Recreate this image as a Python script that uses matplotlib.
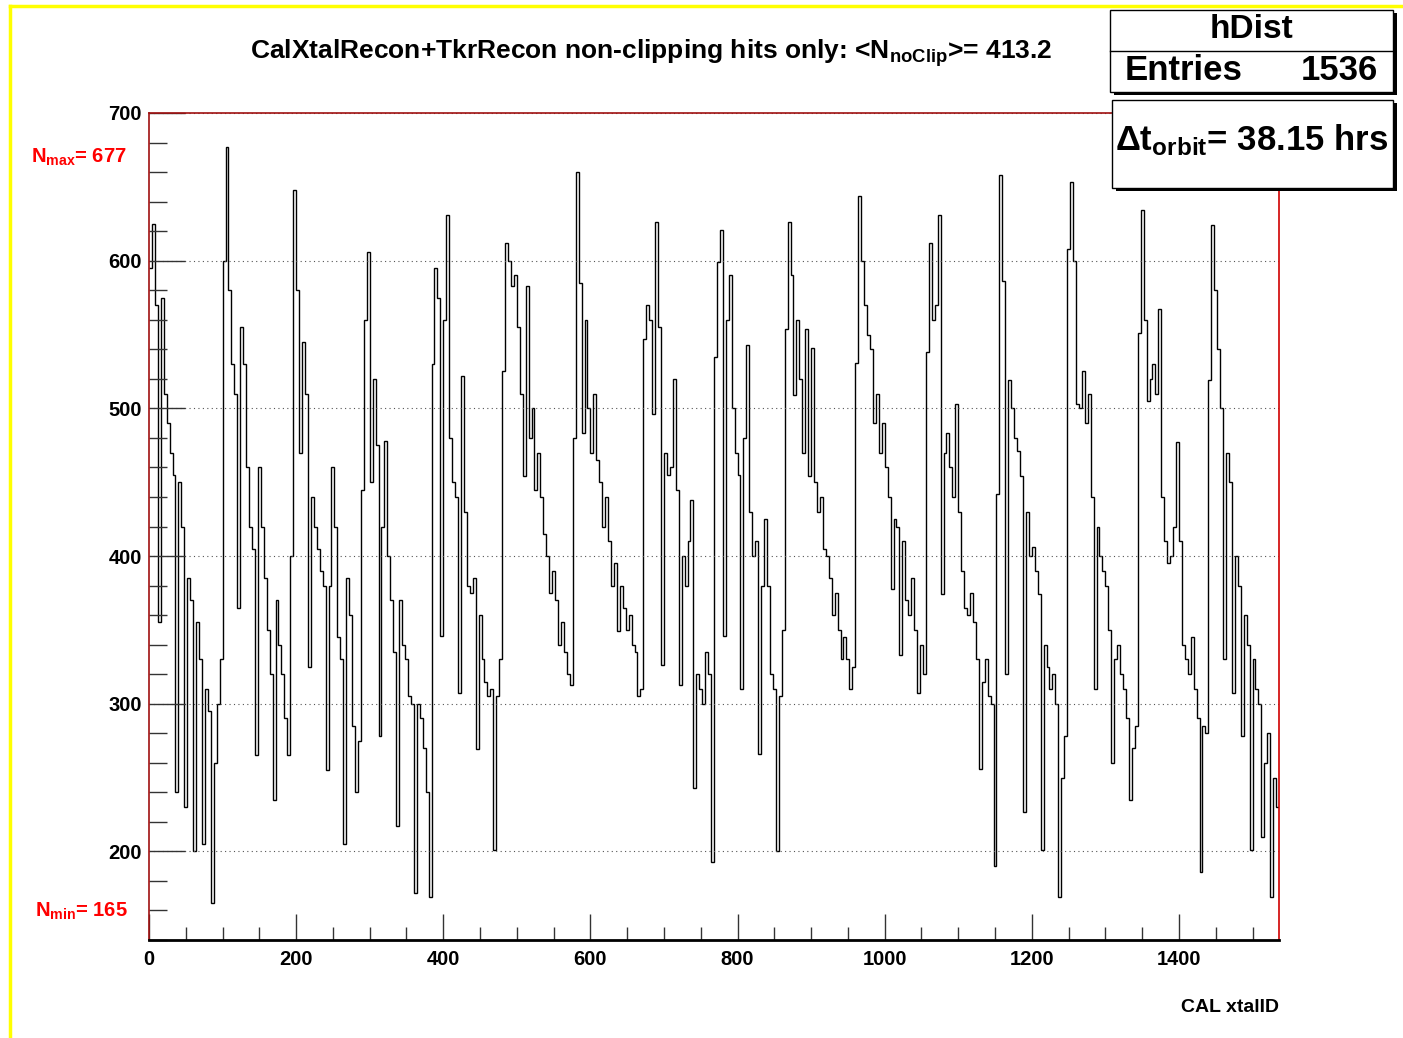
import numpy as np
import matplotlib
matplotlib.use("Agg")
import matplotlib.pyplot as plt
from matplotlib.patches import Rectangle
from matplotlib.lines import Line2D

plt.rcParams['font.family'] = ['Liberation Sans', 'DejaVu Sans']
plt.rcParams['font.weight'] = 'bold'
plt.rcParams['mathtext.fontset'] = 'custom'
plt.rcParams['mathtext.rm'] = 'Liberation Sans:bold'
plt.rcParams['mathtext.bf'] = 'Liberation Sans:bold'
plt.rcParams['mathtext.it'] = 'Liberation Sans:bold'

# hits per crystal in groups of 4 xtalIDs (one list per 96 xtals)
cycle_00 = [595, 625, 570, 355, 575, 510, 490, 470, 455, 240, 450, 420, 230, 385, 370, 200, 355, 330, 205, 310, 295, 165, 260, 300]
cycle_01 = [330, 600, 677, 580, 530, 510, 365, 555, 530, 460, 420, 405, 265, 460, 420, 385, 350, 320, 235, 370, 340, 320, 290, 265]
cycle_02 = [400, 648, 580, 470, 545, 510, 325, 440, 420, 405, 390, 380, 255, 380, 460, 420, 345, 330, 205, 385, 360, 285, 240, 275]
cycle_03 = [445, 560, 606, 450, 520, 475, 278, 420, 478, 400, 370, 335, 217, 370, 340, 330, 305, 300, 172, 300, 290, 270, 240, 169]
cycle_04 = [530, 595, 575, 346, 560, 631, 480, 450, 440, 307, 522, 430, 380, 375, 385, 269, 360, 330, 315, 305, 310, 201, 305, 330]
cycle_05 = [525, 612, 600, 583, 590, 555, 510, 454, 583, 480, 500, 445, 470, 440, 415, 400, 375, 390, 370, 340, 355, 335, 320, 313]
cycle_06 = [480, 660, 585, 483, 560, 500, 470, 510, 465, 450, 420, 440, 410, 380, 395, 349, 380, 365, 350, 360, 340, 335, 305, 310]
cycle_07 = [547, 570, 560, 496, 626, 555, 326, 470, 455, 460, 520, 445, 313, 400, 380, 410, 438, 243, 320, 310, 300, 335, 320, 193]
cycle_08 = [535, 599, 621, 346, 560, 590, 500, 470, 455, 310, 480, 543, 430, 400, 410, 266, 380, 425, 380, 320, 310, 200, 305, 350]
cycle_09 = [554, 626, 590, 509, 560, 520, 470, 554, 454, 541, 450, 430, 440, 405, 400, 385, 360, 375, 350, 330, 345, 330, 310, 325]
cycle_10 = [531, 644, 600, 570, 550, 540, 490, 510, 470, 490, 460, 440, 378, 425, 420, 333, 410, 370, 360, 385, 350, 307, 340, 320]
cycle_11 = [538, 612, 560, 570, 631, 374, 470, 483, 460, 440, 503, 430, 390, 365, 360, 375, 355, 330, 256, 315, 330, 305, 300, 190]
cycle_12 = [442, 658, 586, 320, 519, 500, 480, 471, 454, 227, 430, 400, 406, 390, 374, 201, 340, 325, 310, 320, 300, 169, 250, 278]
cycle_13 = [608, 653, 600, 503, 500, 525, 490, 510, 440, 310, 420, 400, 390, 380, 350, 260, 330, 340, 320, 310, 290, 235, 270, 285]
cycle_14 = [551, 634, 560, 505, 520, 530, 510, 567, 440, 410, 395, 400, 420, 477, 410, 340, 330, 320, 345, 310, 290, 186, 285, 280]
cycle_15 = [519, 624, 580, 540, 500, 330, 470, 450, 307, 400, 380, 278, 360, 340, 201, 330, 310, 300, 210, 260, 280, 169, 250, 230]

n_entries = 1536
mean_noclip = 413.2
n_max = 677
n_min = 165
dt_orbit = 38.15

counts = np.concatenate([cycle_00, cycle_01, cycle_02, cycle_03, cycle_04, cycle_05,
                         cycle_06, cycle_07, cycle_08, cycle_09, cycle_10, cycle_11,
                         cycle_12, cycle_13, cycle_14, cycle_15])
edges = np.linspace(0, n_entries, len(counts) + 1)

W, H = 1403, 1038
fig = plt.figure(figsize=(W / 100, H / 100), dpi=100)

def fx(px):
    return px / W

def fy(py):
    return 1 - py / H

ax = fig.add_axes([fx(149), fy(940), fx(1279) - fx(149), fy(113) - fy(940)])
ax.stairs(counts, edges, color='black', lw=1.0, baseline=None)
ax.set_xlim(0, n_entries)
ax.set_ylim(140, 700)

ax.set_xticks(np.arange(0, 1401, 200))
ax.set_xticks(np.arange(0, 1536, 50), minor=True)
ax.set_yticks(np.arange(200, 701, 100))
ax.set_yticks(np.arange(140, 701, 20), minor=True)
ax.tick_params(axis='x', which='major', direction='in', length=18.5, width=1, color='#333333',
               labelsize=14.5, pad=7)
ax.tick_params(axis='x', which='minor', direction='in', length=9.5, width=1, color='#333333')
ax.tick_params(axis='y', which='major', direction='in', length=26, width=1, color='#333333',
               labelsize=14.5, pad=5)
ax.tick_params(axis='y', which='minor', direction='in', length=13, width=1, color='#333333')
for lab in ax.get_xticklabels() + ax.get_yticklabels():
    lab.set_fontweight('bold')
ax.yaxis.grid(True, which='major', linestyle=(0, (1, 3)), color='#555555', lw=0.8)

ax.spines['bottom'].set_color('black')
ax.spines['bottom'].set_linewidth(2)
ax.spines['left'].set_color('#a01010')
ax.spines['left'].set_linewidth(1.2)
ax.spines['top'].set_color('#a01010')
ax.spines['top'].set_linewidth(1.2)
ax.spines['right'].set_color('#d00000')
ax.spines['right'].set_linewidth(1.2)

# titles and labels
fig.text(fx(651), fy(53), r'CalXtalRecon+TkrRecon non-clipping hits only: <N$_{\mathrm{noClip}}$>= %.1f' % mean_noclip,
         ha='center', va='center', fontsize=19, fontweight='bold')
fig.text(fx(1279), fy(1008), 'CAL xtalID', ha='right', va='center', fontsize=14, fontweight='bold')
fig.text(fx(127), fy(157), r'N$_{\mathrm{max}}$= %d' % n_max, ha='right', va='center',
         fontsize=14.5, fontweight='bold', color='#ff0000')
fig.text(fx(128), fy(911), r'N$_{\mathrm{min}}$= %d' % n_min, ha='right', va='center',
         fontsize=14.5, fontweight='bold', color='#ff0000')

# yellow canvas border
fig.add_artist(Line2D([fx(10), fx(10)], [fy(6), fy(H)], color='#ffff00', lw=2.5))
fig.add_artist(Line2D([fx(10), fx(W)], [fy(6), fy(6)], color='#ffff00', lw=2.5))

def box(x0, y0, x1, y1):
    fig.add_artist(Rectangle((fx(x0 + 4), fy(y1 + 3)), fx(x1) - fx(x0), fy(y0) - fy(y1),
                             facecolor='black', edgecolor='black', lw=0, zorder=5))
    fig.add_artist(Rectangle((fx(x0), fy(y1)), fx(x1) - fx(x0), fy(y0) - fy(y1),
                             facecolor='white', edgecolor='black', lw=1, zorder=6))

# stats box
box(1110, 10, 1393, 92)
fig.add_artist(Line2D([fx(1110), fx(1393)], [fy(51), fy(51)], color='black', lw=1, zorder=7))
fig.text(fx(1251), fy(30), 'hDist', ha='center', va='center', fontsize=24, fontweight='bold', zorder=8)
fig.text(fx(1125), fy(71), 'Entries', ha='left', va='center', fontsize=25, fontweight='bold', zorder=8)
fig.text(fx(1378), fy(71), '%d' % n_entries, ha='right', va='center', fontsize=25, fontweight='bold', zorder=8)

# orbit time box
box(1112, 100, 1393, 188)
fig.text(fx(1252), fy(140), r'Δt$_{\mathrm{orbit}}$= %.2f hrs' % dt_orbit, ha='center', va='center',
         fontsize=25, fontweight='bold', zorder=8)

fig.savefig('out.png', dpi=100)
